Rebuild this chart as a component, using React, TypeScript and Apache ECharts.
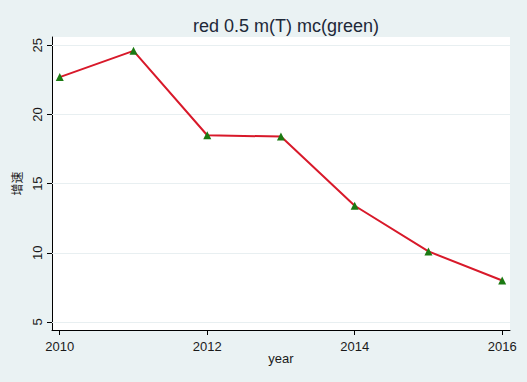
import React, { useEffect, useRef } from "react";
import * as echarts from "echarts";

const years = [2010, 2011, 2012, 2013, 2014, 2015, 2016];
const growth = [22.7, 24.6, 18.5, 18.4, 13.4, 10.1, 8.0];
const xTicks = [2010, 2012, 2014, 2016];
const yTicks = [5, 10, 15, 20, 25];

export default function App() {
  const ref = useRef<HTMLDivElement>(null);
  useEffect(() => {
    if (!ref.current) return;
    const chart = echarts.init(ref.current, null, { renderer: "svg" });
    const font = "Liberation Sans, Arial, sans-serif";
    chart.setOption({
      animation: false,
      backgroundColor: "#eaf2f3",
      title: {
        text: "red 0.5 m(T) mc(green)",
        left: 281,
        textAlign: "center",
        top: 12,
        textStyle: { fontFamily: font, fontSize: 18, fontWeight: "normal", color: "#1e2838" },
      },
      grid: {
        left: 52,
        right: 17,
        top: 37,
        bottom: 52,
        show: true,
        backgroundColor: "#ffffff",
        borderWidth: 0,
      },
      xAxis: {
        type: "value",
        min: 2009.895,
        max: 2016.106,
        name: "year",
        nameLocation: "middle",
        nameGap: 22,
        nameMoveOverlap: false,
        nameTextStyle: { fontFamily: font, fontSize: 13, color: "#1a1a1a" },
        axisLine: { show: true, onZero: false, lineStyle: { color: "#000", width: 1 } },
        axisTick: { show: true, length: 5, customValues: xTicks, lineStyle: { color: "#000" } },
        axisLabel: {
          customValues: xTicks,
          fontFamily: font,
          fontSize: 13,
          color: "#1a1a1a",
          margin: 10,
          formatter: (v: number) => String(Math.round(v)),
        },
        splitLine: { show: false },
      },
      yAxis: {
        type: "value",
        min: 4.42,
        max: 25.6,
        name: "增速",
        nameLocation: "middle",
        nameGap: 30,
        nameRotate: 90,
        nameMoveOverlap: false,
        nameTextStyle: { fontFamily: "Noto Sans CJK SC", fontSize: 12, color: "#1a1a1a" },
        axisLine: { show: true, onZero: false, lineStyle: { color: "#000", width: 1 } },
        axisTick: { show: true, length: 5, customValues: yTicks, lineStyle: { color: "#000" } },
        axisLabel: {
          customValues: yTicks,
          rotate: 90,
          fontFamily: font,
          fontSize: 13,
          color: "#1a1a1a",
          margin: 8,
        },
        splitLine: { show: false },
      },
      series: [
        {
          type: "line",
          data: years.map((y, i) => [y, growth[i]]),
          lineStyle: { color: "#d8192a", width: 2 },
          symbol: "triangle",
          symbolSize: 8,
          itemStyle: { color: "#1b7a12" },
          markLine: {
            silent: true,
            symbol: "none",
            label: { show: false },
            lineStyle: { color: "#e8eff1", width: 1, type: "solid" },
            data: yTicks.map((t) => ({ yAxis: t })),
            z: 1,
          },
          z: 3,
        },
      ],
    });
    return () => chart.dispose();
  }, []);
  return <div ref={ref} style={{ width: 527, height: 382, position: "absolute", left: 0, top: 0 }} />;
}
